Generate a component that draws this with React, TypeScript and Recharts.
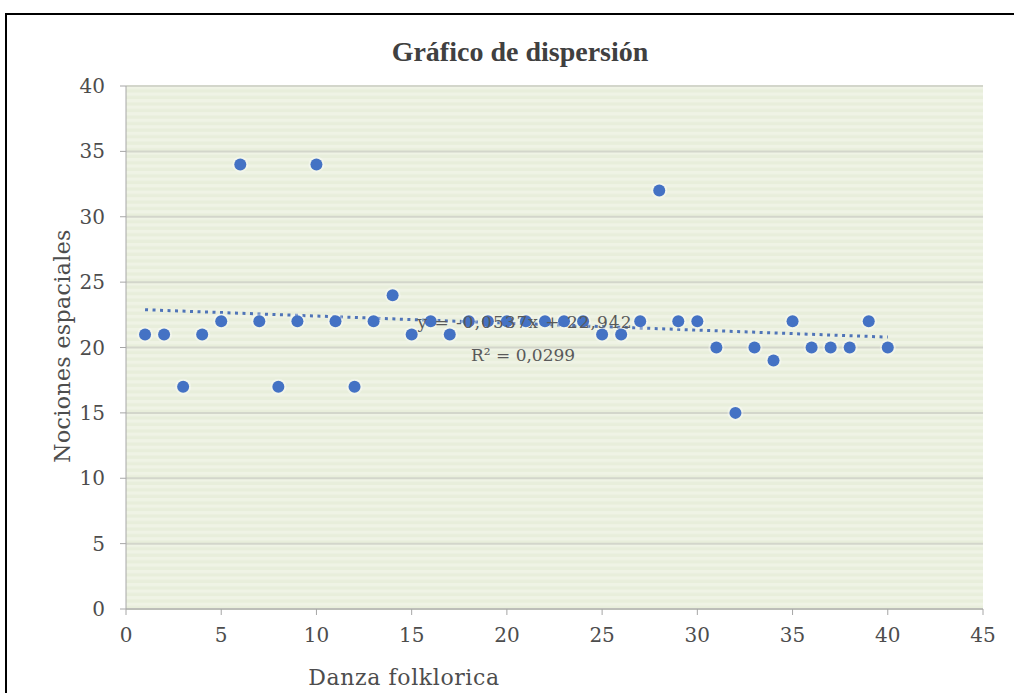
import React from 'react'
import {
  ScatterChart,
  Scatter,
  XAxis,
  YAxis,
  CartesianGrid,
  ReferenceLine,
  ReferenceDot
} from 'recharts'

const danza = [
  1, 2, 3, 4, 5, 6, 7, 8, 9, 10, 11, 12, 13, 14, 15, 16, 17, 18, 19, 20,
  21, 22, 23, 24, 25, 26, 27, 28, 29, 30, 31, 32, 33, 34, 35, 36, 37, 38, 39, 40
]
const nociones = [
  21, 21, 17, 21, 22, 34, 22, 17, 22, 34, 22, 17, 22, 24, 21, 22, 21, 22, 22, 22,
  22, 22, 22, 22, 21, 21, 22, 32, 22, 22, 20, 15, 20, 19, 22, 20, 20, 20, 22, 20
]
const xTicks = [0, 5, 10, 15, 20, 25, 30, 35, 40, 45]
const yTicks = [0, 5, 10, 15, 20, 25, 30, 35, 40]

// linear trend as printed on the chart
const slope = -0.0537
const intercept = 22.942
const eqText = 'y = -0,0537x + 22,942'
const r2Text = 'R² = 0,0299'

const data = danza.map((x, i) => ({ x, y: nociones[i] }))
const trendStart = { x: danza[0], y: intercept + slope * danza[0] }
const trendEnd = { x: danza[danza.length - 1], y: intercept + slope * danza[danza.length - 1] }

const textColor = '#4d4d4d'
const tickStyle = { fill: textColor, fontSize: 20, fontFamily: 'DejaVu Serif' }

const DotShape = (props: any) => {
  const { cx, cy } = props
  return (
    <g>
      <circle cx={cx} cy={cy} r={8} fill="#ffffff" opacity={0.35} />
      <circle cx={cx} cy={cy} r={6} fill="#4472c4" />
    </g>
  )
}

export default function App() {
  return (
    <div style={{ position: 'absolute', left: 0, top: 0, width: 1014, height: 693, overflow: 'hidden', background: '#fff' }}>
      <svg width={0} height={0} style={{ position: 'absolute' }}>
        <defs>
          <pattern id="stripes" patternUnits="userSpaceOnUse" x={0} y={86} width={10} height={6.54}>
            <rect x={0} y={0} width={10} height={6.54} fill="#eff3e5" />
            <rect x={0} y={3.3} width={10} height={3.24} fill="#e8eedb" />
          </pattern>
        </defs>
      </svg>
      <div
        style={{
          position: 'absolute',
          left: 5,
          top: 13,
          width: 1030,
          height: 700,
          border: '2px solid #000',
          boxSizing: 'border-box'
        }}
      />
      <ScatterChart width={1014} height={693} margin={{ top: 86, right: 31, bottom: 54, left: 66 }}>
        <CartesianGrid horizontal vertical={false} fill="url(#stripes)" stroke="#d3d6cb" strokeWidth={2} />
        <XAxis
          type="number"
          dataKey="x"
          domain={[0, 45]}
          ticks={xTicks}
          height={30}
          stroke="#a6a6a6"
          tickSize={6}
          tickMargin={13}
          tick={tickStyle}
        />
        <YAxis
          type="number"
          dataKey="y"
          domain={[0, 40]}
          ticks={yTicks}
          width={60}
          stroke="#a6a6a6"
          tickSize={6}
          tickMargin={15}
          tick={tickStyle}
        />
        <ReferenceLine
          segment={[trendStart, trendEnd]}
          stroke="#4f74b8"
          strokeWidth={3}
          strokeDasharray="3 4.5"
        />
        <ReferenceDot
          x={20.95}
          y={21.95}
          r={1}
          fill="none"
          stroke="none"
          label={{ value: eqText, position: 'center', fill: '#595959', fontSize: 17, letterSpacing: 1, fontFamily: 'DejaVu Serif' }}
        />
        <ReferenceDot
          x={20.85}
          y={19.4}
          r={1}
          fill="none"
          stroke="none"
          label={{ value: r2Text, position: 'center', fill: '#595959', fontSize: 17, fontFamily: 'DejaVu Serif' }}
        />
        <Scatter data={data} fill="#4472c4" shape={DotShape} isAnimationActive={false} />
      </ScatterChart>
      <div
        style={{
          position: 'absolute',
          left: 0,
          width: 1040,
          top: 36,
          textAlign: 'center',
          fontFamily: 'Liberation Serif',
          fontWeight: 'bold',
          fontSize: 28,
          color: '#404040'
        }}
      >
        Gráfico de dispersión
      </div>
      <div
        style={{
          position: 'absolute',
          left: 404,
          top: 677,
          transform: 'translate(-50%, -50%)',
          whiteSpace: 'nowrap',
          fontFamily: 'DejaVu Serif',
          fontSize: 22,
          letterSpacing: 0.6,
          color: textColor
        }}
      >
        Danza folklorica
      </div>
      <div
        style={{
          position: 'absolute',
          left: 62,
          top: 346,
          transform: 'translate(-50%, -50%) rotate(-90deg)',
          whiteSpace: 'nowrap',
          fontFamily: 'DejaVu Serif',
          fontSize: 22,
          letterSpacing: 0.4,
          color: textColor
        }}
      >
        Nociones espaciales
      </div>
    </div>
  )
}
